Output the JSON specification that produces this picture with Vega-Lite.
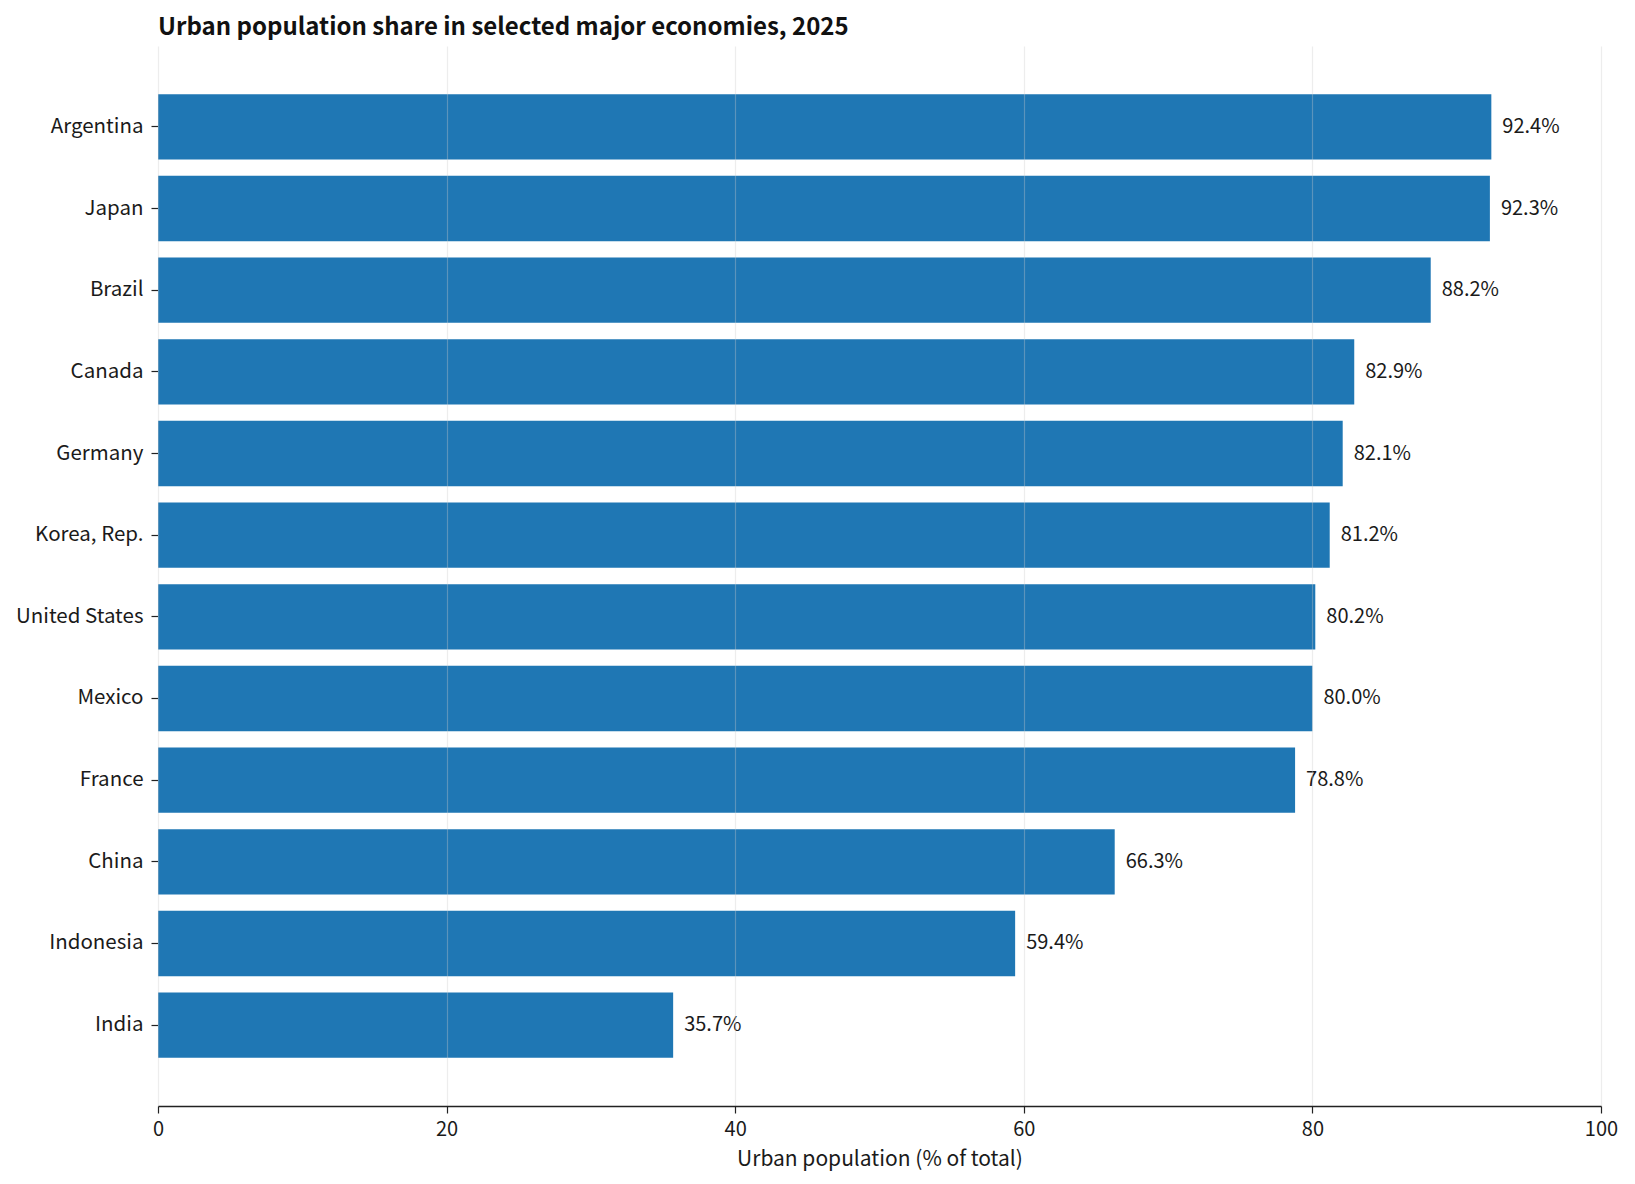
{
  "$schema": "https://vega.github.io/schema/vega-lite/v6.json",
  "description": "Urban population share in selected major economies, 2025",
  "width": 1443,
  "height": 1060,
  "autosize": {"type": "none"},
  "padding": {"left": 158, "top": 46, "right": 34, "bottom": 78},
  "background": "white",
  "config": {
    "font": "Noto Sans CJK KR",
    "view": {"stroke": null}
  },
  "title": {
    "text": "Urban population share in selected major economies, 2025",
    "anchor": "start",
    "frame": "group",
    "fontSize": 24,
    "fontWeight": "bold",
    "color": "#111111",
    "offset": 6
  },
  "data": {
    "values": [
      {"country": "Argentina", "urban": 92.4},
      {"country": "Japan", "urban": 92.3},
      {"country": "Brazil", "urban": 88.2},
      {"country": "Canada", "urban": 82.9},
      {"country": "Germany", "urban": 82.1},
      {"country": "Korea, Rep.", "urban": 81.2},
      {"country": "United States", "urban": 80.2},
      {"country": "Mexico", "urban": 80.0},
      {"country": "France", "urban": 78.8},
      {"country": "China", "urban": 66.3},
      {"country": "Indonesia", "urban": 59.4},
      {"country": "India", "urban": 35.7}
    ]
  },
  "transform": [
    {"calculate": "format(datum.urban, '.1f') + '%'", "as": "label"}
  ],
  "encoding": {
    "y": {
      "field": "country",
      "type": "nominal",
      "sort": {"field": "urban", "order": "descending"},
      "scale": {"paddingInner": 0.2, "paddingOuter": 0.59},
      "axis": {
        "title": null,
        "domain": false,
        "grid": false,
        "tickSize": 7,
        "tickColor": "#222222",
        "tickWidth": 1.2,
        "labelPadding": 8,
        "labelFontSize": 20.5,
        "labelColor": "#1a1a1a"
      }
    },
    "x": {
      "field": "urban",
      "type": "quantitative",
      "scale": {"domain": [0, 100], "nice": false},
      "axis": {
        "title": "Urban population (% of total)",
        "values": [0, 20, 40, 60, 80, 100],
        "format": "d",
        "labelFlush": false,
        "zindex": 1,
        "grid": true,
        "gridColor": "#cccccc",
        "gridOpacity": 0.35,
        "gridWidth": 1.2,
        "domain": true,
        "domainColor": "#222222",
        "domainWidth": 1.5,
        "tickSize": 7,
        "tickColor": "#222222",
        "tickWidth": 1.2,
        "labelPadding": 6,
        "labelFontSize": 20,
        "labelColor": "#1a1a1a",
        "titleFontSize": 21,
        "titleFontWeight": "normal",
        "titleColor": "#1a1a1a",
        "titlePadding": 9
      }
    }
  },
  "layer": [
    {
      "mark": {"type": "bar", "color": "#1f77b4"}
    },
    {
      "mark": {"type": "text", "align": "left", "baseline": "middle", "dx": 11, "fontSize": 20, "color": "#1a1a1a"},
      "encoding": {
        "text": {"field": "label", "type": "nominal"}
      }
    }
  ]
}
